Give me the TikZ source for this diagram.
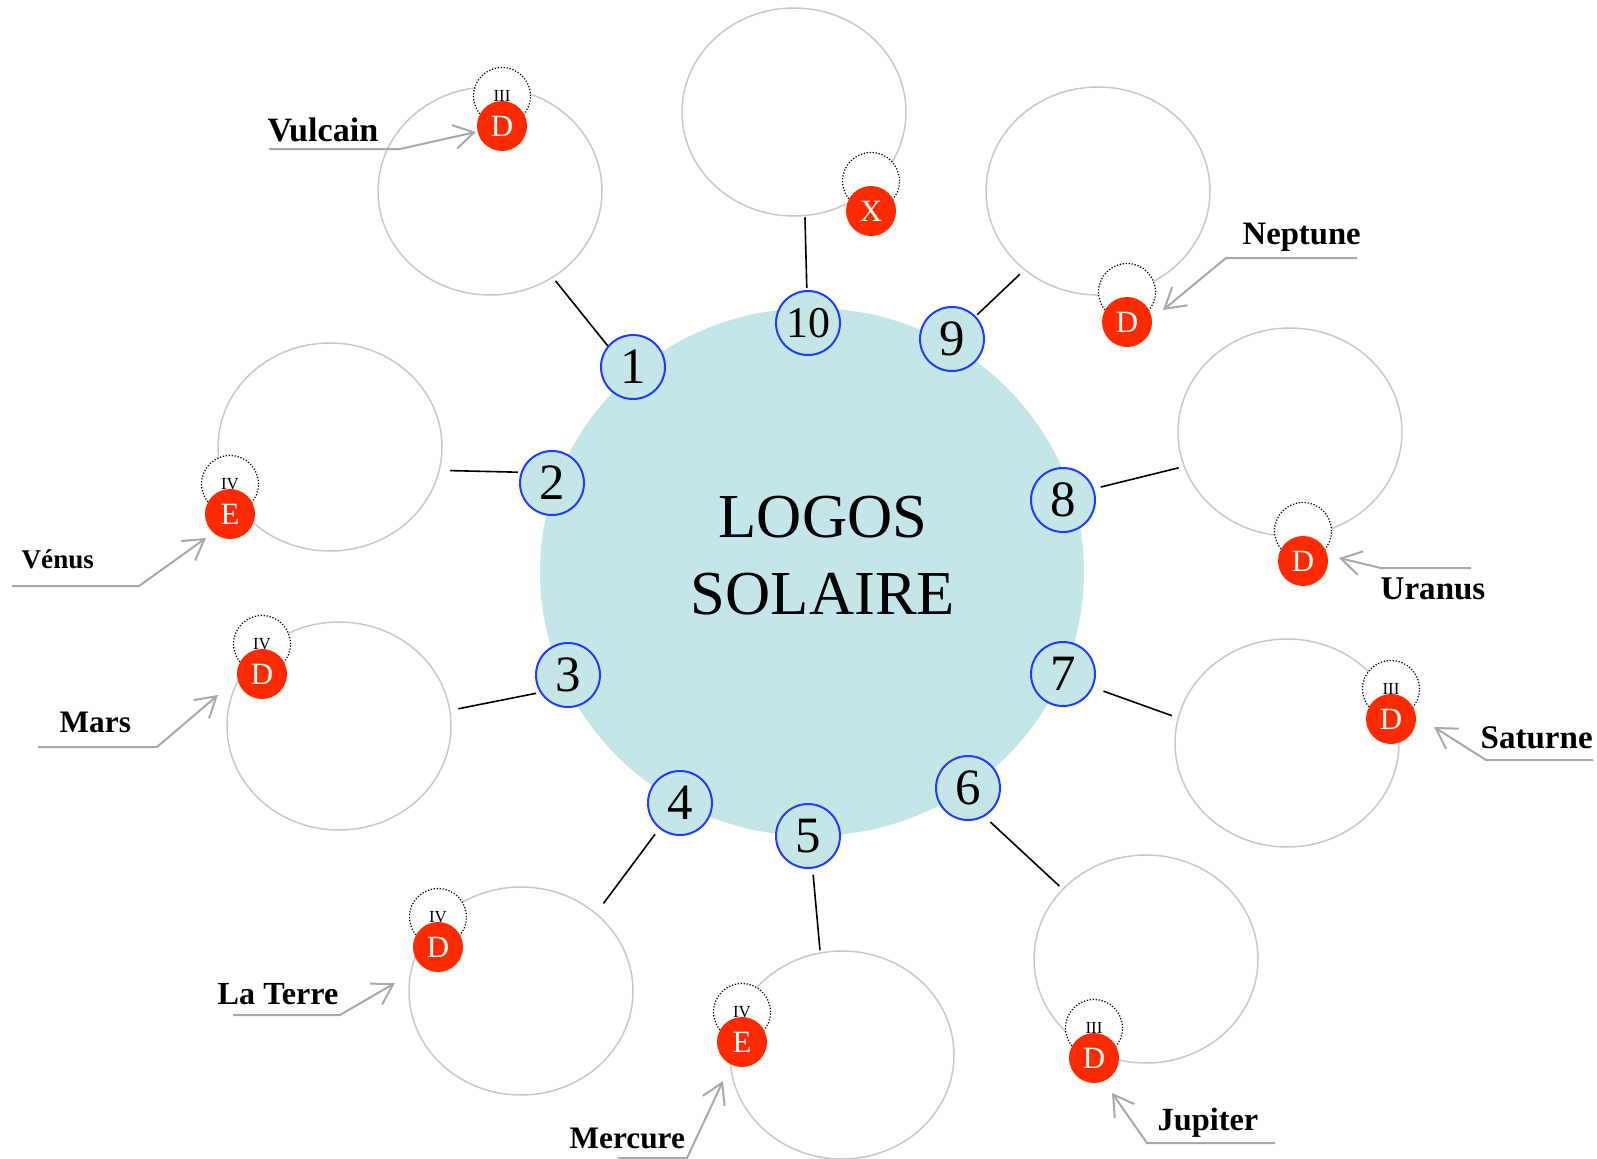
\documentclass[tikz,border=0pt]{standalone}
\usepackage{fontspec}
\setmainfont{Liberation Serif}
\usepackage{tikz}
\usetikzlibrary{shapes.geometric,arrows.meta}

\definecolor{sunblue}{RGB}{197,230,233}
\definecolor{ringblue}{RGB}{30,60,255}
\definecolor{planetred}{RGB}{255,42,0}
\definecolor{orbitgray}{RGB}{200,200,200}
\definecolor{pointergray}{RGB}{168,168,168}

\begin{document}
\begin{tikzpicture}[x=0.1mm,y=-0.1mm,
  sun/.style={ellipse,fill=sunblue,inner sep=0pt,minimum width=54.4mm,minimum height=52.8mm},
  orbit/.style={ellipse,draw=orbitgray,line width=0.15mm,inner sep=0pt,minimum width=22.4mm,minimum height=20.8mm},
  num/.style={circle,draw=ringblue,fill=sunblue,line width=0.2mm,inner sep=0pt,minimum size=6.4mm,font=\fontsize{14.5}{14.5}\selectfont},
  globe/.style={circle,fill=planetred,text=white,inner sep=0pt,minimum size=5mm,font=\fontsize{8.8}{8.8}\selectfont},
  halo/.style={circle,draw,dash pattern=on 0.35pt off 0.5pt,line width=0.12mm,fill=white,inner sep=0pt,minimum size=5.7mm,font=\fontsize{4.8}{4.8}\selectfont},
  tag/.style={anchor=base west,inner sep=0pt},
  pointer/.style={draw=pointergray,line width=0.2mm,-{Straight Barb[length=2mm,width=2.4mm]}},
  link/.style={draw,line width=0.16mm}]

\useasboundingbox (0,0) rectangle (1597,1159);

\node[sun] (sun) at (812,572) {};
\node[align=center,font=\fontsize{17.8}{21.9}\selectfont] (logos) at (823,556) {LOGOS\\SOLAIRE};

\foreach \k/\nx/\ny/\ox/\oy/\gx/\gy/\letter/\numeral in {
  1/633/367/490/191/502/126/D/III,
  2/552/483/330/447/230/514/E/IV,
  3/568/675/339/726/262/674/D/IV,
  4/680/803/521/991/438/947/D/IV,
  5/808/836/842/1055/742/1042/E/IV,
  6/968/788/1146/959/1094/1058/D/III,
  7/1063/674/1287/743/1391/719/D/III,
  8/1063/500/1290/432/1303/561/D/{},
  9/952/339/1098/191/1127/322/D/{},
  10/808/323/794/112/871/211/X/{}} {
  \node[orbit] (o\k) at (\ox,\oy) {};
  \ifnum\k=10
    \node[num,font=\fontsize{12.5}{12.5}\selectfont] (n\k) at (\nx,\ny) {\k};
  \else
    \node[num] (n\k) at (\nx,\ny) {\k};
  \fi
  \node[halo] (h\k) at (\gx,\gy-30) {\numeral};
  \node[globe] (g\k) at (\gx,\gy) {\letter};
}

\foreach \k/\a/\b/\s/\e in {1/140/306/0/0.4, 2/161/348/0.3/1.0, 3/212/8/0.4/0.8,
  4/231/46/0.7/1.2, 5/278/102/0.6/0.2, 6/300/140/0.8/0.4, 7/336/167/1.1/0.6,
  8/20/198/0.7/0.5, 9/44/227/0.2/0.6, 10/92/276/0.2/0.1}
  \draw[link,shorten <=\s mm,shorten >=\e mm] (n\k.\a) -- (o\k.\b);

\foreach \k/\planet/\size/\tx/\ty/\ux/\bx/\uy/\px/\py in {
  1/Vulcain/9.7/267/141/269/400/149/476/132,
  2/Vénus/7.7/21/568/12/139/586/206/538,
  3/Mars/8.9/59/732/38/157/747/218/695,
  4/La Terre/9.15/217/1004/233/340/1015/395/983,
  5/Mercure/8.9/569/1148/618/687/1158/723/1081,
  6/Jupiter/9.2/1157/1130/1275/1147/1143/1112/1093,
  7/Saturne/9.4/1480/748/1593/1486/760/1434/727,
  8/Uranus/9.4/1380/599/1471/1381/568/1339/558,
  9/Neptune/9.3/1242/244/1357/1226/258/1163/310} {
  \node[tag,font=\fontsize{\size}{\size}\selectfont\bfseries] (t\k) at (\tx,\ty) {\planet};
  \coordinate (u\k) at (\ux,\uy);
  \coordinate (b\k) at (\bx,\uy);
  \coordinate (p\k) at (\px,\py);
  \draw[pointer] (u\k) -- (b\k) -- (p\k);
}

\end{tikzpicture}
\end{document}
